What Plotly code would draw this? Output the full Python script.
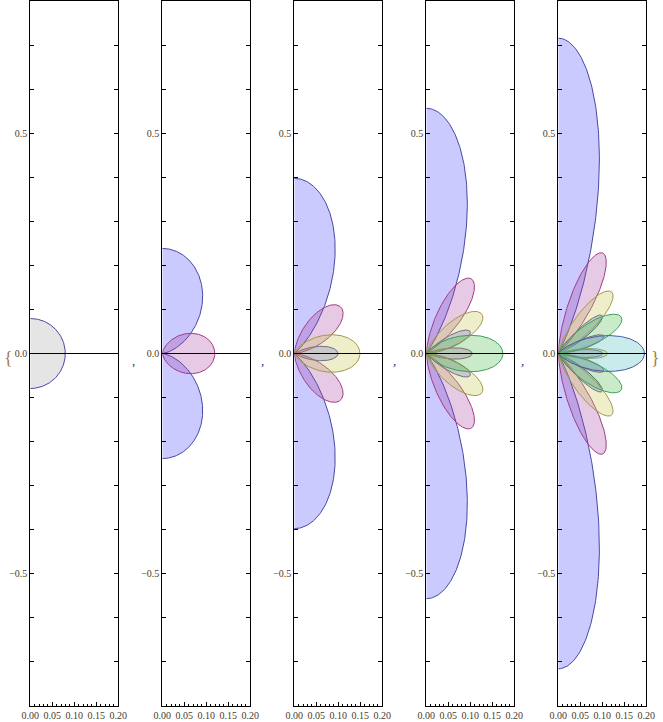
import math

import numpy as np
import plotly.graph_objects as go

# |Y_lm(theta)|^2 patterns, one panel per degree l, one curve per order m = 0..l
degrees = [0, 1, 2, 3, 4]
line_colors = ['rgb(72,72,165)', 'rgb(160,62,128)', 'rgb(165,152,70)', 'rgb(62,158,86)', 'rgb(70,92,165)']
fill_colors = ['rgba(90,90,255,0.32)', 'rgba(160,60,160,0.28)', 'rgba(200,200,80,0.3)',
               'rgba(80,190,80,0.3)', 'rgba(80,190,190,0.3)']
single_fill = 'rgba(170,170,170,0.3)'

x_tick_vals = [0.0, 0.05, 0.10, 0.15, 0.20]
x_tick_text = ['0.00', '0.05', '0.10', '0.15', '0.20']
y_tick_vals = [-0.8, -0.7, -0.6, -0.5, -0.4, -0.3, -0.2, -0.1, 0.0,
               0.1, 0.2, 0.3, 0.4, 0.5, 0.6, 0.7, 0.8]
y_tick_text = ['', '', '', '\u22120.5', '', '', '', '', '0.0', '', '', '', '', '0.5', '', '', '']

# positions below are in pixels of the 663x722 window
W, H = 663, 722
PANEL_LEFT, PANEL_STEP, PANEL_W = 30.3, 132, 88
PANEL_TOP, PANEL_BOTTOM = 1.3, 705.7
TICK_FONT = dict(family='Liberation Serif', size=10, color='#4a3a2a')


def assoc_legendre(l, m, x):
    s = np.sqrt(np.clip(1 - x ** 2, 0, None))
    pmm = np.ones_like(x)
    for i in range(1, m + 1):
        pmm = -pmm * (2 * i - 1) * s
    if l == m:
        return pmm
    pm1 = x * (2 * m + 1) * pmm
    for ll in range(m + 2, l + 1):
        pll = ((2 * ll - 1) * x * pm1 - (ll + m - 1) * pmm) / (ll - m)
        pmm, pm1 = pm1, pll
    return pm1


def ylm_squared(l, m, theta):
    norm = (2 * l + 1) / (4 * math.pi) * math.factorial(l - m) / math.factorial(l + m)
    return norm * assoc_legendre(l, m, np.cos(theta)) ** 2


theta = np.linspace(0, math.pi, 901)
fig = go.Figure()
n = len(degrees)

for k, l in enumerate(degrees):
    xa = 'x' if k == 0 else f'x{k + 1}'
    ya = 'y' if k == 0 else f'y{k + 1}'
    for m in range(l + 1):
        r = ylm_squared(l, m, theta)
        fill = single_fill if l == 0 else fill_colors[m]
        fig.add_trace(go.Scatter(
            x=r * np.sin(theta), y=r * np.cos(theta), mode='lines',
            fill='toself', fillcolor=fill, line=dict(color=line_colors[m], width=1),
            xaxis=xa, yaxis=ya, showlegend=False, hoverinfo='skip',
        ))

    left = (PANEL_LEFT + PANEL_STEP * k) / W
    right = (PANEL_LEFT + PANEL_STEP * k + PANEL_W) / W
    key = '' if k == 0 else str(k + 1)
    top_key = str(n + k + 1)
    axis_common = dict(
        range=[0, 0.2], tickvals=x_tick_vals, ticks='inside', ticklen=4, tickcolor='black',
        minor=dict(dtick=0.01, ticks='inside', ticklen=2, tickcolor='black'),
        showgrid=False, zeroline=False, fixedrange=True,
    )
    fig.layout['xaxis' + key] = dict(
        domain=[left, right], anchor=ya, ticktext=x_tick_text,
        showline=True, linecolor='black', linewidth=1, mirror=True,
        tickfont=TICK_FONT, **axis_common,
    )
    # top edge of the frame carries the same ticks
    fig.layout['xaxis' + top_key] = dict(
        domain=[left, right], anchor=ya, overlaying=xa, side='top',
        showticklabels=False, showline=False, **axis_common,
    )
    fig.layout['yaxis' + key] = dict(
        domain=[1 - PANEL_BOTTOM / H, 1 - PANEL_TOP / H], range=[-0.8, 0.8], anchor=xa,
        tickvals=y_tick_vals, ticktext=y_tick_text, ticks='inside', ticklen=4,
        tickcolor='black', showline=True, linecolor='black', linewidth=1, mirror='allticks',
        showgrid=False, zeroline=False, tickfont=TICK_FONT, fixedrange=True,
    )
    # horizontal axis through the origin, drawn over the fills
    fig.add_shape(type='line', xref=f'{xa} domain', yref=ya, x0=0, x1=1, y0=0, y1=0,
                  line=dict(color='black', width=1), layer='above')
    if k > 0:
        fig.add_annotation(x=(PANEL_LEFT + PANEL_STEP * k - 32) / W, y=1 - 360 / H,
                           xref='paper', yref='paper', text=',', showarrow=False,
                           font=dict(family='Liberation Serif', size=13, color='#27336e'))

brace_font = dict(family='Liberation Serif', size=18, color='#a47a44')
fig.add_annotation(x=2 / W, y=1 - 358 / H, xref='paper', yref='paper', text='{',
                   xanchor='left', showarrow=False, font=brace_font)
fig.add_annotation(x=662 / W, y=1 - 358 / H, xref='paper', yref='paper', text='}',
                   xanchor='right', showarrow=False, font=brace_font)

# width follows the window, height is fixed
fig.update_layout(
    height=H, autosize=True,
    margin=dict(l=0, r=0, t=0, b=0, autoexpand=False),
    paper_bgcolor='white', plot_bgcolor='white',
)

# no page margin / scrollbars, then refit the figure to the full window width
page_js = (
    "document.documentElement.style.overflow = 'hidden';"
    "document.body.style.margin = '0';"
    "Plotly.Plots.resize(document.getElementById('{plot_id}'));"
)
fig.write_html('out.html', config={'displayModeBar': False}, post_script=page_js)
